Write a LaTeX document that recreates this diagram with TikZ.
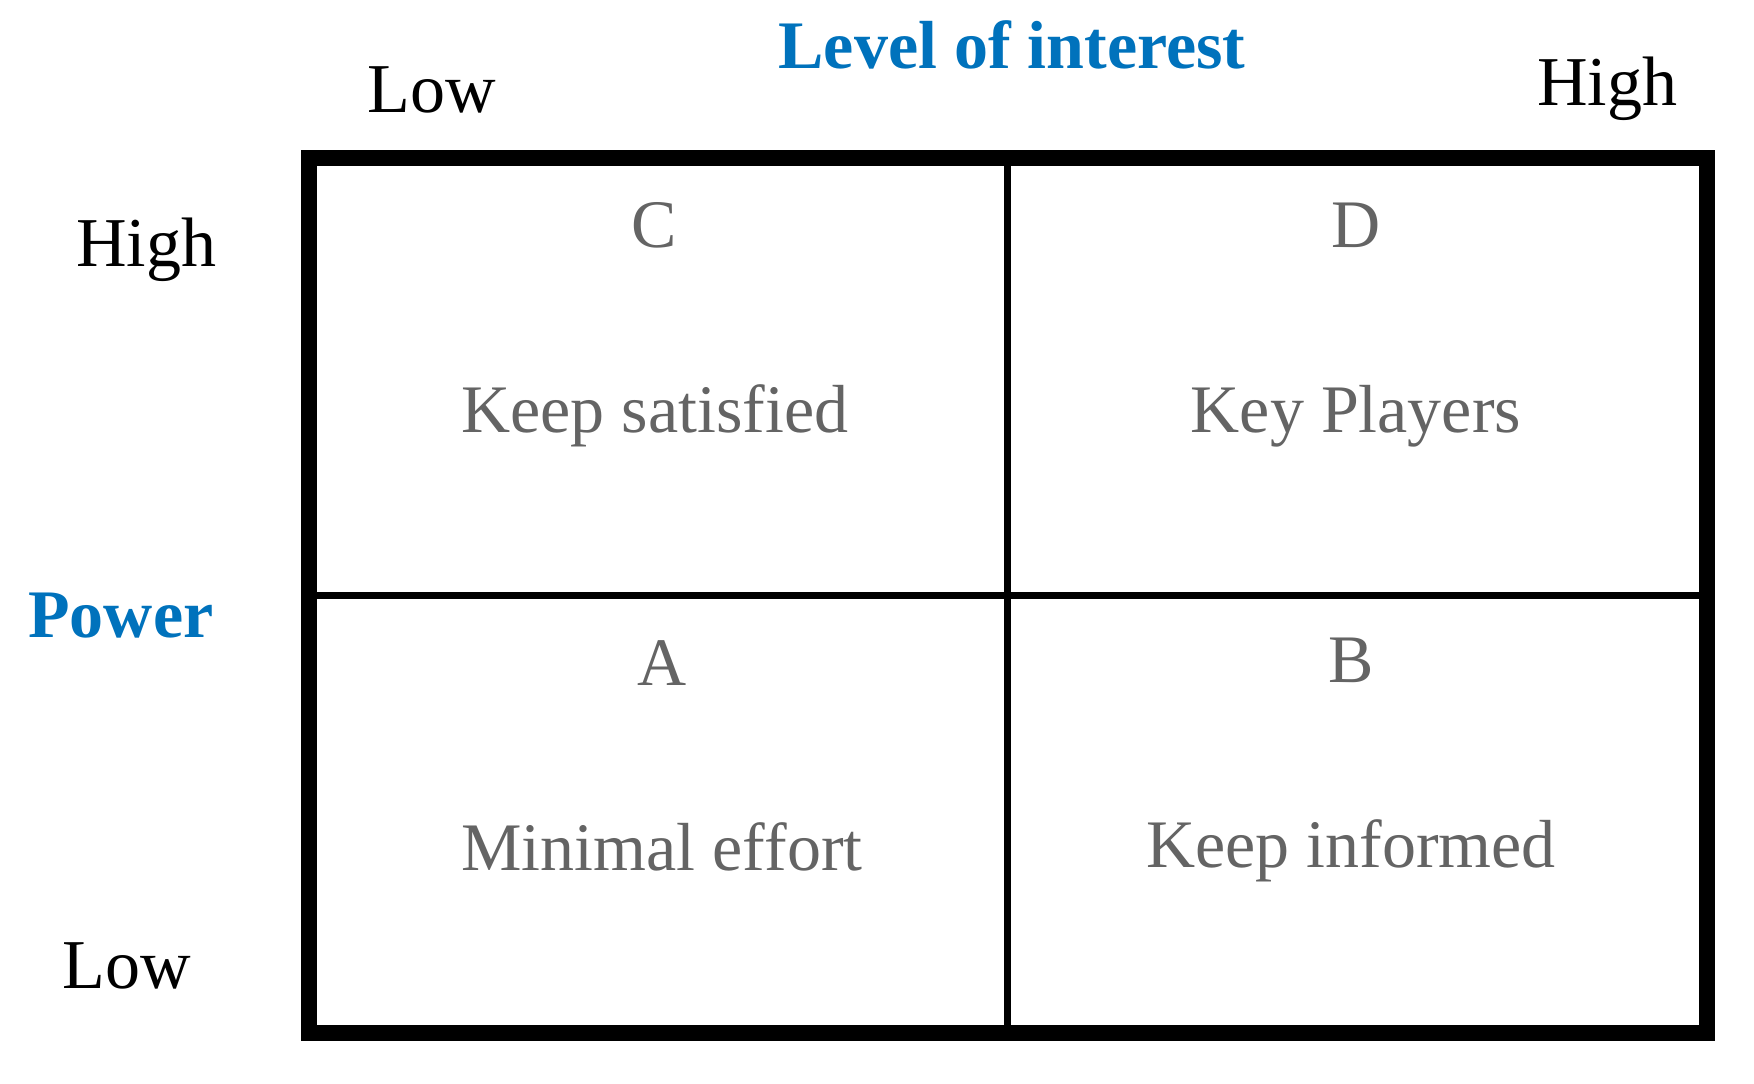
\documentclass[tikz,border=0pt]{standalone}
\usepackage{fontspec}
\setmainfont{Liberation Serif}
\definecolor{axisblue}{RGB}{0,114,188}
\definecolor{cellgray}{RGB}{100,100,100}
\begin{document}
\begin{tikzpicture}[x=0.5pt,y=-0.5pt,
  axislabel/.style={inner sep=0pt,anchor=base,text=black,font=\fontsize{35pt}{40pt}\selectfont},
  axistitle/.style={inner sep=0pt,anchor=base,text=axisblue,font=\fontsize{34pt}{40pt}\selectfont\bfseries},
  celltext/.style={inner sep=0pt,anchor=base,text=cellgray,font=\fontsize{34pt}{40pt}\selectfont},
  frame/.style={line width=8pt,draw=black},
  divider/.style={line width=3.5pt,draw=black}]
\useasboundingbox (0,0) rectangle (1754,1083);
% frame
\coordinate (tl) at (309,158);
\coordinate (br) at (1707,1033);
\coordinate (vt) at (1007,158);
\coordinate (vb) at (1007,1033);
\coordinate (hl) at (309,595);
\coordinate (hr) at (1707,595);
\draw[divider] (vt) -- (vb);
\draw[divider] (hl) -- (hr);
\draw[frame] (tl) rectangle (br);
% axis titles
\node[axistitle] (loi) at (1012,68) {Level of interest};
\node[axistitle,anchor=base west] (pow) at (28,637) {Power};
% axis labels
\node[axislabel] (xlow) at (432,112) {Low};
\node[axislabel] (xhigh) at (1607,105) {High};
\node[axislabel,anchor=base west] (yhigh) at (76,266) {High};
\node[axislabel,anchor=base west] (ylow) at (62,988) {Low};
% cells
\node[celltext] (c) at (654,247) {C};
\node[celltext] (d) at (1356,247) {D};
\node[celltext] (cs) at (655,432) {Keep satisfied};
\node[celltext] (dk) at (1356,432) {Key Players};
\node[celltext] (a) at (662,685) {A};
\node[celltext] (b) at (1351,682) {B};
\node[celltext] (am) at (662,870) {Minimal effort};
\node[celltext] (bk) at (1351,867) {Keep informed};
\end{tikzpicture}
\end{document}
